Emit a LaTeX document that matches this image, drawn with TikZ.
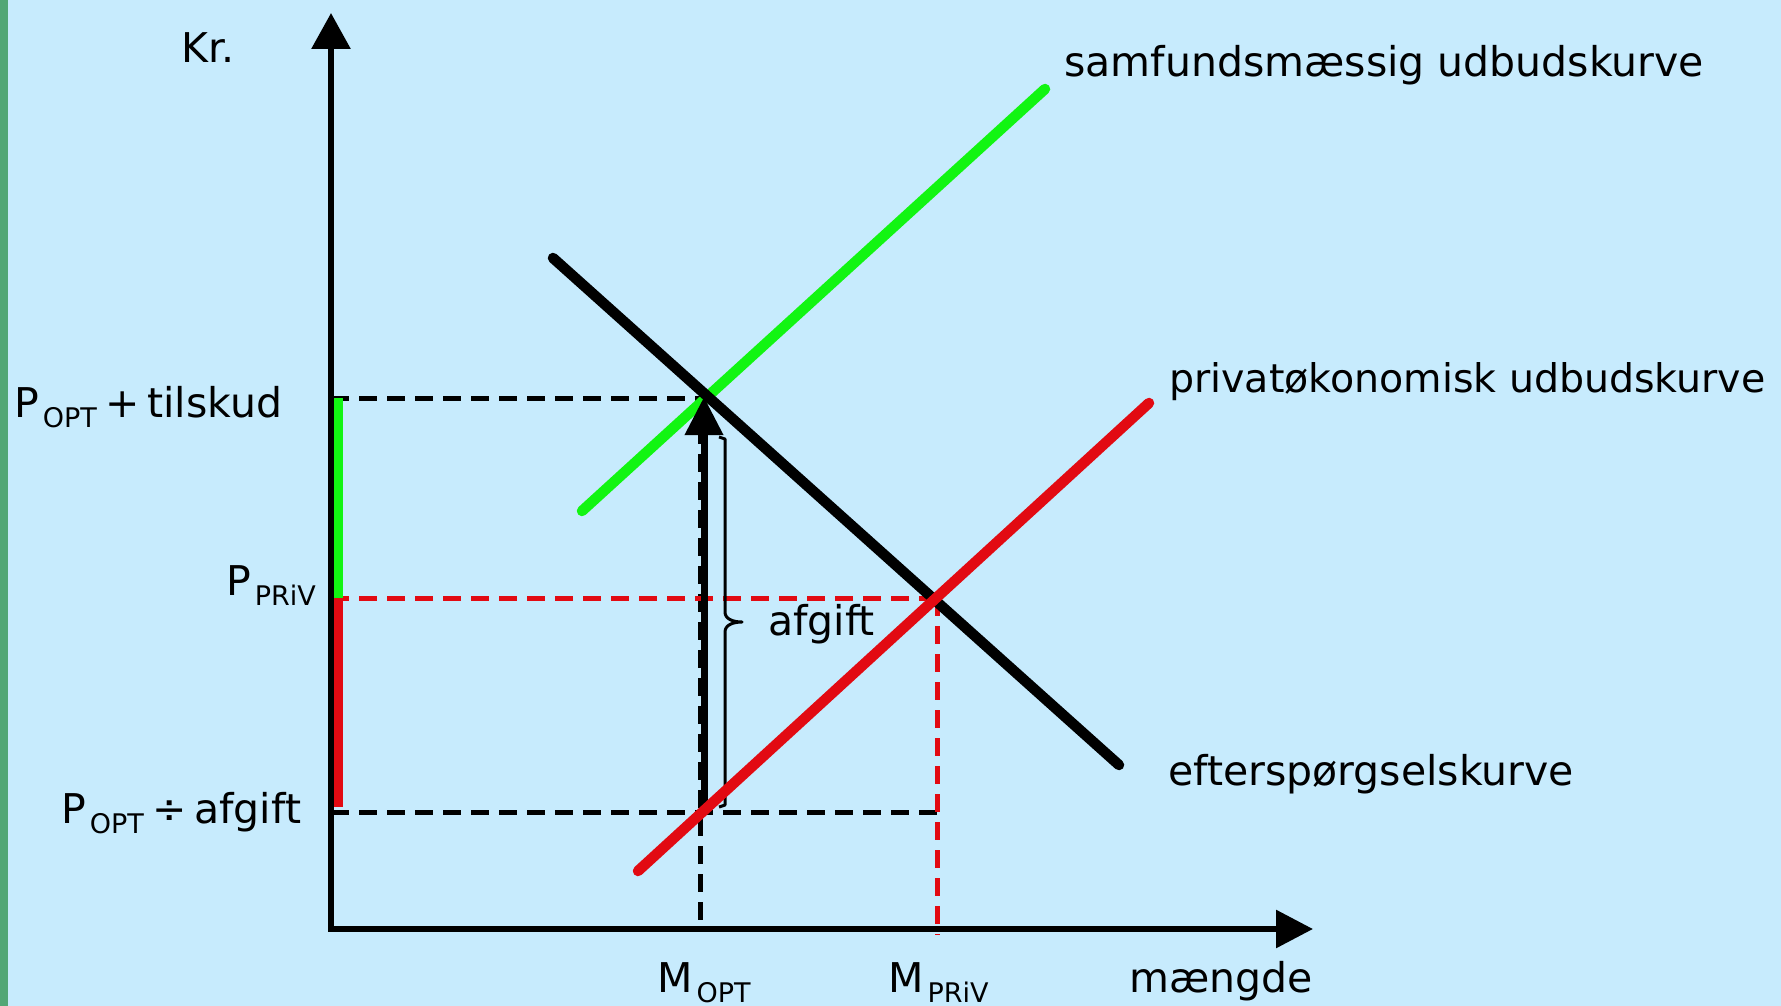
\documentclass[tikz,border=0pt]{standalone}
\usepackage{fontspec}
\setmainfont{DejaVu Sans}
\usetikzlibrary{arrows.meta}
\definecolor{bgblue}{RGB}{199,235,253}
\definecolor{stripgreen}{RGB}{82,167,118}
\definecolor{lgreen}{RGB}{18,245,18}
\definecolor{cred}{RGB}{226,10,18}
\newcommand\lbsub[1]{\hspace{4pt}\raisebox{-10pt}{\fontsize{27}{30}\selectfont #1}}
\begin{document}
\begin{tikzpicture}[x=1pt,y=-1pt,
  lbl/.style={inner sep=0pt, anchor=base west, font=\fontsize{41}{49}\selectfont},
  curve/.style={line width=10.5pt, line cap=round},
  dsh/.style={line width=5pt, dash pattern=on 18pt off 10pt},
  axisline/.style={line width=6pt, line join=miter, arrows={Triangle[length=36pt,width=38pt]-Triangle[length=37pt,width=37pt]}},
  seg/.style={line width=8.5pt}
]
\useasboundingbox (0,0) rectangle (1781,1006);
\fill[bgblue] (0,0) rectangle (1781,1006);
\fill[stripgreen] (0,0) rectangle (8,1006);

% key points
\coordinate (O) at (331,929);
\coordinate (Ytip) at (331,13);
\coordinate (Xtip) at (1313,929);
\coordinate (YPopt) at (331,398);
\coordinate (YPpriv) at (331,598);
\coordinate (YPafg) at (331,812);
\coordinate (Eopt) at (706,398);
\coordinate (Epriv) at (937,598);
\coordinate (Eafg) at (937,812);
\coordinate (MoptTop) at (700,398);
\coordinate (MoptBot) at (700,929);
\coordinate (MprivBot) at (937,935);
\coordinate (Dstart) at (553,258);
\coordinate (Dend) at (1119,765);
\coordinate (Gstart) at (582,511);
\coordinate (Gend) at (1045,89);
\coordinate (Rstart) at (638,871);
\coordinate (Rend) at (1149,403);
\coordinate (Abot) at (704,807);
\coordinate (Atop) at (704,397);

% dashed guide lines
\draw[dsh] (YPopt) -- (Eopt);
\draw[dsh] (MoptTop) -- (MoptBot);
\draw[dsh] (YPafg) -- (Eafg);
\draw[dsh, cred] (YPpriv) -- (Epriv);
\draw[dsh, cred] (Epriv) -- (MprivBot);

% colored segments on price axis
\draw[seg, lgreen] (338.5,398) -- (338.5,598);
\draw[seg, cred] (338.5,598) -- (338.5,807);

% curves
\draw[curve, lgreen] (Gstart) -- (Gend);
\draw[curve, black] (Dstart) -- (Dend);

% arrow
\draw[line width=7pt, -{Triangle[length=38pt,width=37pt]}] (Abot) -- (Atop);

% brace
\draw[line width=3pt, line join=round] (719,437) -- (725,439) -- (725,612)
  .. controls (725,619) and (733,622) .. (742,622)
  .. controls (733,622) and (725,625) .. (725,632) -- (725,805) -- (719,807);

\draw[curve, cred] (Rstart) -- (Rend);

% axes
\draw[axisline] (Ytip) -- (O) -- (Xtip);

% labels
\node[lbl] (kr) at (181,63) {Kr.};
\node[lbl] (popt) at (14,417) {P\lbsub{OPT}\hspace{9pt}+\hspace{7pt}tilskud};
\node[lbl] (ppriv) at (226,595) {P\lbsub{PRiV}};
\node[lbl] (pafg) at (61,823) {P\lbsub{OPT}\hspace{9pt}÷\hspace{7pt}afgift};
\node[lbl] (afg) at (768,635) {afgift};
\node[lbl] (mopt) at (657,992) {M\lbsub{OPT}};
\node[lbl] (mpriv) at (888,992) {M\lbsub{PRiV}};
\node[lbl] (maengde) at (1129,992) {mængde};
\node[lbl] (samf) at (1064,77) {samfundsmæssig udbudskurve};
\node[lbl, font=\fontsize{39.5}{47}\selectfont] (priv) at (1169,392) {privatøkonomisk udbudskurve};
\node[lbl] (eft) at (1168,785) {efterspørgselskurve};
\end{tikzpicture}
\end{document}
